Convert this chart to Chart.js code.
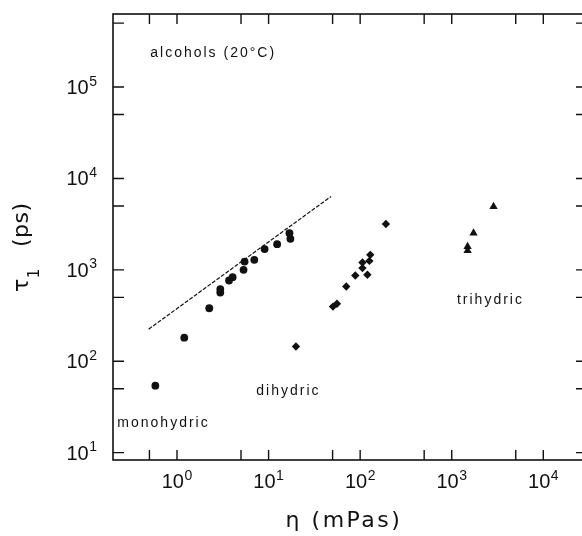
<!DOCTYPE html>
<html>
<head>
<meta charset="utf-8">
<script src="https://cdn.jsdelivr.net/npm/chart.js@4"></script>
<style>
  html, body { margin: 0; padding: 0; overflow: hidden; background: #fff; }
</style>
</head>
<body>
<canvas id="myChart" width="592" height="536"></canvas>
<script>
// viscosity eta (mPas), relaxation time tau1 (ps)
const monohydric = [
  [0.58, 54], [1.2, 181], [2.25, 380], [2.97, 615], [2.97, 565],
  [3.7, 764], [4.05, 832], [5.33, 1000], [5.47, 1230], [6.98, 1286],
  [9.05, 1686], [12.4, 1910], [16.9, 2515], [17.3, 2182]
];
const dihydric = [
  [191, 3170], [129, 1459], [126, 1253], [106, 1203], [106, 1045],
  [120, 882], [88.5, 866], [70.5, 656], [55.8, 425], [50.5, 396], [19.9, 145]
];
const trihydric = [
  [2860, 4930], [1730, 2520], [1490, 1800], [1490, 1625]
];
const guideLine = [[0.49, 224], [48, 6340]];

const xMajor = [1, 10, 100, 1000, 10000];
const xMinor = [0.5, 5, 50, 500, 5000];
const yMajor = [10, 100, 1000, 10000, 100000];
const yMinor = [50, 500, 5000, 50000, 500000];

const notes = [
  { text: 'alcohols (20°C)', x: 0.51, y: 2.15e5 },
  { text: 'monohydric', x: 0.223, y: 19.3 },
  { text: 'dihydric', x: 7.34, y: 42.8 },
  { text: 'trihydric', x: 1140, y: 425 }
];

const toPoints = arr => arr.map(p => ({ x: p[0], y: p[1] }));
const setTicks = (major, minor) => scale => {
  scale.ticks = major.map(v => ({ value: v, major: true }))
    .concat(minor.map(v => ({ value: v, major: false })));
};

const ink = '#111';

const frame = {
  id: 'frame',
  afterDraw(chart) {
    const { ctx, chartArea: a, scales: { x, y } } = chart;
    ctx.save();
    ctx.strokeStyle = ink;
    ctx.lineWidth = 1.6;
    ctx.strokeRect(a.left, a.top, a.right - a.left, a.bottom - a.top);

    // inward ticks on all four sides
    ctx.lineWidth = 1.4;
    ctx.beginPath();
    x.ticks.forEach(t => {
      const px = x.getPixelForValue(t.value);
      ctx.moveTo(px, a.bottom); ctx.lineTo(px, a.bottom - 10);
      ctx.moveTo(px, a.top); ctx.lineTo(px, a.top + 10);
    });
    y.ticks.forEach(t => {
      const py = y.getPixelForValue(t.value);
      ctx.moveTo(a.left, py); ctx.lineTo(a.left + 11, py);
      ctx.moveTo(a.right, py); ctx.lineTo(a.right - 11, py);
    });
    ctx.stroke();

    // tick labels 10^n
    ctx.fillStyle = ink;
    ctx.textBaseline = 'alphabetic';
    ctx.textAlign = 'left';
    const big = '20px "Liberation Sans"';
    const small = '14px "Liberation Sans"';
    const label = (v, left, base) => {
      const e = String(Math.round(Math.log10(v)));
      ctx.font = big;
      const w1 = ctx.measureText('10').width;
      ctx.fillText('10', left, base);
      ctx.font = small;
      ctx.fillText(e, left + w1 + 0.5, base - 8.5);
    };
    const width = v => {
      const e = String(Math.round(Math.log10(v)));
      ctx.font = big;
      const w1 = ctx.measureText('10').width;
      ctx.font = small;
      return w1 + 0.5 + ctx.measureText(e).width;
    };
    x.ticks.filter(t => t.major).forEach(t => {
      const px = x.getPixelForValue(t.value);
      label(t.value, px - width(t.value) / 2, a.bottom + 28);
    });
    y.ticks.filter(t => t.major).forEach(t => {
      const py = y.getPixelForValue(t.value);
      label(t.value, a.left - 16 - width(t.value), py + 7);
    });

    // annotations
    ctx.font = '14px "Liberation Sans"';
    ctx.letterSpacing = '2px';
    notes.forEach(n => {
      ctx.fillText(n.text, x.getPixelForValue(n.x), y.getPixelForValue(n.y));
    });

    // x title
    ctx.font = '22px "DejaVu Sans"';
    ctx.letterSpacing = '2.5px';
    ctx.textAlign = 'center';
    ctx.fillText('η (mPas)', (a.left + a.right) / 2 - 6, 527);

    // y title, rotated
    ctx.letterSpacing = '0px';
    ctx.textAlign = 'left';
    ctx.translate(28, 292);
    ctx.rotate(-Math.PI / 2);
    ctx.font = '22px "DejaVu Sans"';
    const wt = ctx.measureText('τ').width;
    ctx.fillText('τ', 0, 0);
    ctx.font = '15px "DejaVu Sans"';
    ctx.fillText('1', wt + 0.5, 11);
    ctx.font = '22px "DejaVu Sans"';
    ctx.letterSpacing = '0.5px';
    ctx.fillText('(ps)', 45, 0);
    ctx.restore();
  }
};

const ctx = document.getElementById('myChart').getContext('2d');
const chart = new Chart(ctx, {
  type: 'scatter',
  data: {
    datasets: [
      {
        label: 'monohydric',
        data: toPoints(monohydric),
        pointStyle: 'circle',
        pointRadius: 3.9,
        backgroundColor: ink,
        borderColor: ink,
        borderWidth: 0
      },
      {
        label: 'dihydric',
        data: toPoints(dihydric),
        pointStyle: 'rectRot',
        pointRadius: 4.2,
        backgroundColor: ink,
        borderColor: ink,
        borderWidth: 0
      },
      {
        label: 'trihydric',
        data: toPoints(trihydric),
        pointStyle: 'triangle',
        pointRadius: 4.8,
        backgroundColor: ink,
        borderColor: ink,
        borderWidth: 0
      },
      {
        label: 'guide',
        data: toPoints(guideLine),
        showLine: true,
        pointRadius: 0,
        borderColor: ink,
        borderWidth: 1.2,
        borderDash: [4, 1.6],
        fill: false
      }
    ]
  },
  options: {
    responsive: false,
    animation: false,
    events: [],
    layout: { padding: { left: 113, top: 14, right: 5, bottom: 76 } },
    plugins: { legend: { display: false }, tooltip: { enabled: false } },
    scales: {
      x: {
        type: 'logarithmic',
        display: false,
        min: 0.2,
        max: 30000,
        afterBuildTicks: setTicks(xMajor, xMinor),
        ticks: { display: false, autoSkip: false }
      },
      y: {
        type: 'logarithmic',
        display: false,
        min: 8.3,
        max: 630000,
        afterBuildTicks: setTicks(yMajor, yMinor),
        ticks: { display: false, autoSkip: false }
      }
    }
  },
  plugins: [frame]
});
</script>
</body>
</html>
